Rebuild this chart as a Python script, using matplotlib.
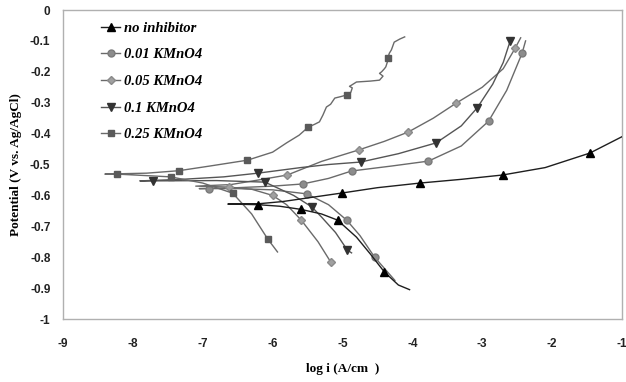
import matplotlib.pyplot as plt

# Tafel curves: vertices run from the cathodic end, through Ecorr (leftmost), to the anodic end
x_none = [-4.04, -4.2, -4.4, -4.6, -4.8, -5.07, -5.3, -5.6, -5.9, -6.21, -6.64,
          -6.2, -5.86, -5.4, -5.0, -4.5, -3.89, -3.3, -2.71, -2.1, -1.46, -1.0]
y_none = [-0.905, -0.89, -0.848, -0.79, -0.735, -0.68, -0.66, -0.645, -0.635, -0.63, -0.628,
          -0.627, -0.62, -0.605, -0.592, -0.575, -0.56, -0.548, -0.534, -0.51, -0.463, -0.41]
mk_none = [2, 5, 7, 9, 14, 16, 18, 20]

x_001 = [-4.25, -4.54, -4.75, -4.94, -5.2, -5.51, -6.0, -6.5, -6.91, -7.05,
         -6.6, -6.0, -5.57, -5.2, -4.87, -4.3, -3.77, -3.3, -2.91, -2.65, -2.43, -2.38]
y_001 = [-0.875, -0.8, -0.73, -0.68, -0.63, -0.595, -0.582, -0.578, -0.578, -0.578,
         -0.576, -0.57, -0.563, -0.545, -0.521, -0.505, -0.489, -0.44, -0.36, -0.26, -0.14, -0.1]
mk_001 = [1, 3, 5, 8, 12, 14, 16, 18, 20]

x_005 = [-5.17, -5.35, -5.59, -5.8, -6.0, -6.3, -6.63, -7.1,
         -6.6, -6.2, -5.79, -5.3, -4.77, -4.4, -4.06, -3.7, -3.37, -3.0, -2.7, -2.53, -2.45]
y_005 = [-0.815, -0.75, -0.68, -0.63, -0.6, -0.58, -0.573, -0.57,
         -0.565, -0.55, -0.534, -0.49, -0.453, -0.425, -0.395, -0.35, -0.301, -0.25, -0.19, -0.124, -0.09]
mk_005 = [0, 2, 4, 6, 10, 12, 14, 16, 19]

x_01 = [-4.87, -4.93, -5.1, -5.3, -5.44, -5.7, -6.11, -6.8, -7.71, -7.9,
        -7.3, -6.7, -6.21, -5.6, -5.2, -4.74, -4.2, -3.66, -3.3, -3.07, -2.85, -2.7, -2.6]
y_01 = [-0.786, -0.777, -0.72, -0.67, -0.637, -0.6, -0.557, -0.552, -0.553, -0.553,
        -0.548, -0.54, -0.528, -0.51, -0.5, -0.492, -0.465, -0.43, -0.375, -0.316, -0.24, -0.17, -0.1]
mk_01 = [1, 4, 6, 8, 12, 15, 17, 19, 22]

x_025 = [-5.93, -6.07, -6.3, -6.57, -7.0, -7.46, -8.23, -8.4,
         -7.8, -7.34, -6.9, -6.36, -6.0, -5.8, -5.62, -5.49, -5.4, -5.33, -5.28, -5.23,
         -5.17, -5.11, -5.02, -4.94, -4.88, -4.86, -4.9, -4.87, -4.8, -4.6, -4.47,
         -4.42, -4.47, -4.44, -4.4, -4.38, -4.36, -4.35, -4.33, -4.3, -4.26, -4.18, -4.11]
y_025 = [-0.783, -0.741, -0.66, -0.593, -0.56, -0.54, -0.531, -0.531,
         -0.528, -0.52, -0.505, -0.486, -0.46, -0.43, -0.405, -0.379, -0.37, -0.362, -0.34, -0.314,
         -0.305, -0.285, -0.28, -0.275, -0.266, -0.252, -0.247, -0.243, -0.233, -0.23, -0.227,
         -0.214, -0.205, -0.2, -0.19, -0.184, -0.17, -0.155, -0.14, -0.129, -0.104, -0.094, -0.087]
mk_025 = [1, 3, 5, 6, 9, 11, 15, 23, 37]

x_ticks = [-9, -8, -7, -6, -5, -4, -3, -2, -1]
y_ticks = [0, -0.1, -0.2, -0.3, -0.4, -0.5, -0.6, -0.7, -0.8, -0.9, -1]
y_tick_labels = ["0", "-0.1", "-0.2", "-0.3", "-0.4", "-0.5", "-0.6", "-0.7", "-0.8", "-0.9", "-1"]

fig = plt.figure(figsize=(6.26, 3.82), dpi=100)
ax = fig.add_axes([0.1006, 0.1649, 0.893, 0.8089])

lw = 1.0
ax.plot(x_none, y_none, color='#1e1e1e', lw=lw, marker='^', ms=5.5, mfc='black', mec='black',
        markevery=mk_none, label='no inhibitor', zorder=3)
ax.plot(x_001, y_001, color='#6a6a6a', lw=lw, marker='o', ms=5, mfc='#8c8c8c', mec='#7a7a7a',
        markevery=mk_001, label='0.01 KMnO4')
ax.plot(x_005, y_005, color='#6a6a6a', lw=lw, marker='D', ms=4.5, mfc='#a0a0a0', mec='#8a8a8a',
        markevery=mk_005, label='0.05 KMnO4')
ax.plot(x_01, y_01, color='#555555', lw=lw, marker='v', ms=5.5, mfc='#333333', mec='#333333',
        markevery=mk_01, label='0.1 KMnO4')
ax.plot(x_025, y_025, color='#6a6a6a', lw=lw, marker='s', ms=4.5, mfc='#5a5a5a', mec='#5a5a5a',
        markevery=mk_025, label='0.25 KMnO4')

ax.set_xlim(-9, -1)
ax.set_ylim(-1, 0)
ax.set_xticks(x_ticks)
ax.set_xticklabels([str(t) for t in x_ticks])
ax.set_yticks(y_ticks)
ax.set_yticklabels(y_tick_labels)
ax.tick_params(length=0, labelsize=8.5, colors='#222222')
ax.tick_params(axis='x', pad=14)
ax.tick_params(axis='y', pad=9)
for lab in ax.get_xticklabels() + ax.get_yticklabels():
    lab.set_fontweight('bold')
    lab.set_family('Liberation Sans')
for s in ax.spines.values():
    s.set_color('#b0b0b0')
    s.set_linewidth(1.0)

ax.set_xlabel('log i (A/cm  )', family='Liberation Serif', fontweight='bold', fontsize=9.5, labelpad=9)
ax.set_ylabel('Potential (V vs. Ag/AgCl)', family='Liberation Serif', fontweight='bold', fontsize=9.5,
              labelpad=6)

leg = ax.legend(loc='upper left', bbox_to_anchor=(0.045, 1.005), frameon=False, numpoints=1,
                handlelength=1.3, handletextpad=0.25, labelspacing=0.92,
                prop={'family': 'Liberation Serif', 'weight': 'bold', 'style': 'italic', 'size': 10.5})

fig.savefig('out.png', dpi=100)
